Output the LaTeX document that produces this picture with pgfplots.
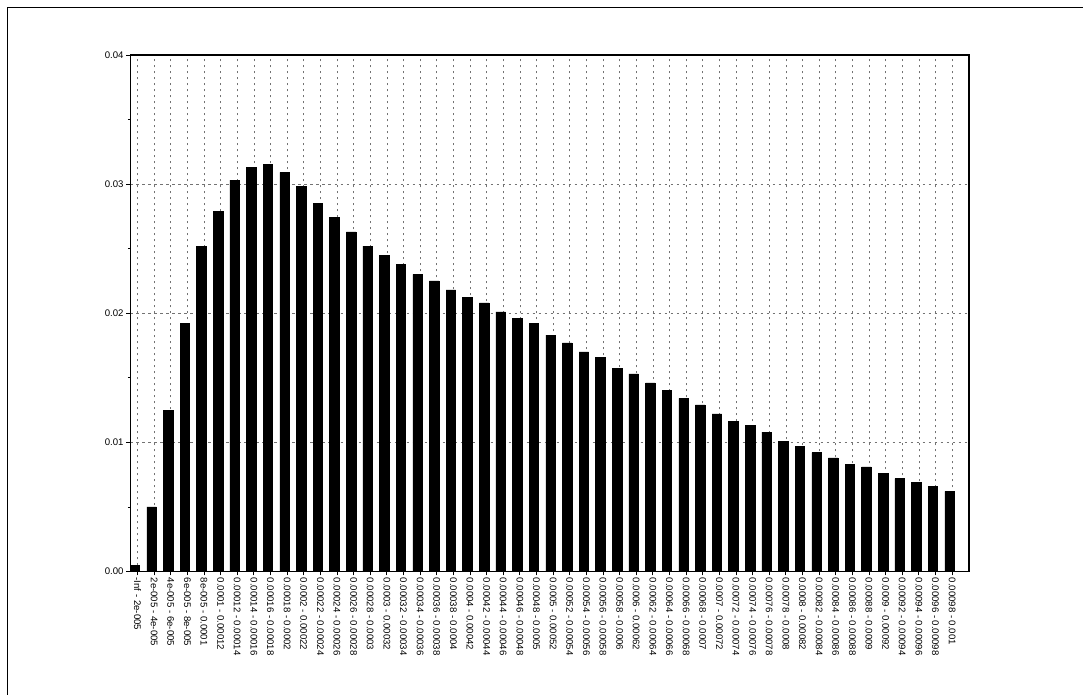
\documentclass[border=0pt]{standalone}
\usepackage{pgfplots}
\pgfplotsset{compat=1.18}
\usepackage{fontspec}
\setmainfont{Liberation Sans}
\begin{document}
\begin{tikzpicture}[x=0.75pt,y=0.75pt]
\useasboundingbox (-130.5,-123.5) rectangle (952.5,571.5);
\draw[line width=0.6pt] (-123.5,-123.5) -- (-123.5,564.5) -- (952.5,564.5);
\begin{axis}[
  at={(0,0)}, anchor=south west,
  scale only axis,
  width=628.9pt, height=387.4pt,
  xmin=-0.42, xmax=50.02,
  ymin=0, ymax=0.04,
  scaled y ticks=false,
  axis line style={line width=0.9pt},
  ytick={0,0.01,0.02,0.03,0.04},
  yticklabels={0.00,0.01,0.02,0.03,0.04},
  minor ytick={0.005,0.015,0.025,0.035},
  xtick={0,...,49},
  xticklabels={-Inf - 2e-005,2e-005 - 4e-005,4e-005 - 6e-005,6e-005 - 8e-005,8e-005 - 0.0001,0.0001 - 0.00012,0.00012 - 0.00014,0.00014 - 0.00016,0.00016 - 0.00018,0.00018 - 0.0002,0.0002 - 0.00022,0.00022 - 0.00024,0.00024 - 0.00026,0.00026 - 0.00028,0.00028 - 0.0003,0.0003 - 0.00032,0.00032 - 0.00034,0.00034 - 0.00036,0.00036 - 0.00038,0.00038 - 0.0004,0.0004 - 0.00042,0.00042 - 0.00044,0.00044 - 0.00046,0.00046 - 0.00048,0.00048 - 0.0005,0.0005 - 0.00052,0.00052 - 0.00054,0.00054 - 0.00056,0.00056 - 0.00058,0.00058 - 0.0006,0.0006 - 0.00062,0.00062 - 0.00064,0.00064 - 0.00066,0.00066 - 0.00068,0.00068 - 0.0007,0.0007 - 0.00072,0.00072 - 0.00074,0.00074 - 0.00076,0.00076 - 0.00078,0.00078 - 0.0008,0.0008 - 0.00082,0.00082 - 0.00084,0.00084 - 0.00086,0.00086 - 0.00088,0.00088 - 0.0009,0.0009 - 0.00092,0.00092 - 0.00094,0.00094 - 0.00096,0.00096 - 0.00098,0.00098 - 0.001},
  xticklabel style={rotate=-90, anchor=west, font=\fontsize{7.2}{8}\selectfont, inner sep=1.5pt},
  yticklabel style={font=\fontsize{7.2}{8}\selectfont, inner sep=2pt},
  tick align=outside,
  major tick length=3pt,
  minor tick length=2pt,
  tick style={black, line width=0.6pt},
  xtick pos=bottom, ytick pos=left,
  xmajorgrids, ymajorgrids,
  major grid style={black!55, line width=0.35pt, dash pattern=on 2pt off 2.5pt},
]
\addplot[ybar, bar width=0.57, bar shift=-1.9pt, fill=black, draw=black, line width=0.4pt] coordinates {
(0,0.0005) (1,0.0050) (2,0.0125) (3,0.0192) (4,0.0252) (5,0.0279) (6,0.0303) (7,0.0313) (8,0.0315) (9,0.0309)
(10,0.0298) (11,0.0285) (12,0.0274) (13,0.0263) (14,0.0252) (15,0.0245) (16,0.0238) (17,0.0230) (18,0.0225) (19,0.0218)
(20,0.0212) (21,0.0208) (22,0.0201) (23,0.0196) (24,0.0192) (25,0.0183) (26,0.0177) (27,0.0170) (28,0.0166) (29,0.0157)
(30,0.0153) (31,0.0146) (32,0.0140) (33,0.0134) (34,0.0129) (35,0.0122) (36,0.0116) (37,0.0113) (38,0.0108) (39,0.0101)
(40,0.0097) (41,0.0092) (42,0.0088) (43,0.0083) (44,0.0081) (45,0.0076) (46,0.0072) (47,0.0069) (48,0.0066) (49,0.0062)
};
\end{axis}
\end{tikzpicture}
\end{document}
